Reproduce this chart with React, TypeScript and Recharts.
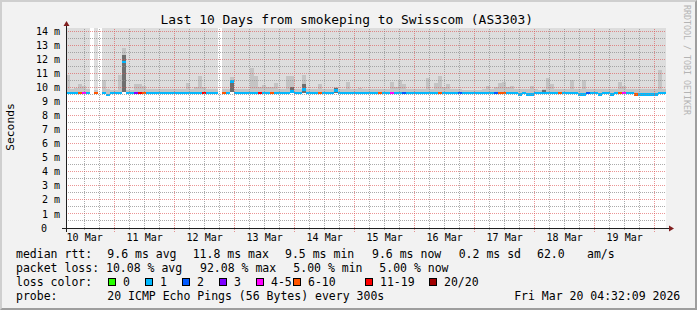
import { ComposedChart, Bar, XAxis, YAxis, CartesianGrid, ReferenceLine, Cell } from "recharts"

// time axis in hours since Mar 10 00:00, graph ends Mar 20 04:32
const START_H = 4.54
const END_H = 244.54
const STEP_H = 1.6
const TOP_MS = 14.215

const FONT = "'DejaVu Sans Mono', monospace"
const GRID_MINOR = "rgba(143,143,143,0.75)"
const GRID_MAJOR = "rgba(222,79,79,0.6)"

const dayLabels = ["10 Mar", "11 Mar", "12 Mar", "13 Mar", "14 Mar", "15 Mar", "16 Mar", "17 Mar", "18 Mar", "19 Mar"]
const yTicks = [0, 1, 2, 3, 4, 5, 6, 7, 8, 9, 10, 11, 12, 13, 14]

// median rtt (ms), one value per 1.6 h column, null = no data
const median = [
  9.6, 9.6, 9.6, 9.6, 9.6, 9.6, null, 9.6, null, 9.6,
  9.45, 9.6, 9.6, 9.6, 11.8, 9.6, 9.6, 9.6, 9.6, 9.6,
  9.6, 9.6, 9.6, 9.6, 9.6, 9.6, 9.6, 9.6, 9.6, 9.6,
  9.6, 9.6, 9.6, 9.6, 9.6, 9.6, 9.6, 9.6, null, 9.6,
  9.6, 10.4, 9.6, 9.6, 9.6, 9.6, 9.6, 9.6, 9.6, 9.6,
  9.6, 9.6, 9.6, 9.6, 9.6, 9.6, 9.7, 9.6, 9.6, 9.85,
  9.6, 9.6, 9.6, 9.6, 9.6, 9.6, 9.6, 9.75, 9.6, 9.6,
  9.6, 9.6, 9.6, 9.6, 9.6, 9.6, 9.6, 9.6, 9.6, 9.6,
  9.6, 9.6, 9.6, 9.6, 9.6, 9.6, 9.6, 9.6, 9.6, 9.6,
  9.6, 9.6, 9.6, 9.6, 9.6, 9.6, 9.6, 9.6, 9.6, 9.6,
  9.6, 9.6, 9.6, 9.6, 9.6, 9.6, 9.6, 9.6, 9.6, 9.6,
  9.6, 9.6, 9.6, 9.5, 9.6, 9.5, 9.5, 9.6, 9.6, 9.6,
  9.6, 9.6, 9.6, 9.6, 9.6, 9.6, 9.6, 9.6, 9.5, 9.5,
  9.6, 9.6, 9.6, 9.5, 9.6, 9.6, 9.5, 9.6, 9.6, 9.6,
  9.6, 9.6, 9.5, 9.5, 9.5, 9.5, 9.5, 9.5, 9.6, 9.6,
]

// lowest ping of each column (ms)
const smokeLow = [
  9.6, 9.6, 9.6, 9.6, 9.6, 9.6, null, 9.6, null, 9.6,
  9.45, 9.6, 9.6, 9.6, 9.7, 9.6, 9.6, 9.6, 9.6, 9.6,
  9.6, 9.6, 9.6, 9.6, 9.6, 9.6, 9.6, 9.6, 9.6, 9.6,
  9.6, 9.6, 9.6, 9.6, 9.6, 9.6, 9.6, 9.6, null, 9.6,
  9.6, 9.7, 9.6, 9.6, 9.6, 9.6, 9.6, 9.6, 9.6, 9.6,
  9.6, 9.6, 9.6, 9.6, 9.6, 9.6, 9.6, 9.6, 9.6, 9.6,
  9.6, 9.6, 9.6, 9.6, 9.6, 9.6, 9.6, 9.6, 9.6, 9.6,
  9.6, 9.6, 9.6, 9.6, 9.6, 9.6, 9.6, 9.6, 9.6, 9.6,
  9.6, 9.6, 9.6, 9.6, 9.6, 9.6, 9.6, 9.6, 9.6, 9.6,
  9.6, 9.6, 9.6, 9.6, 9.6, 9.6, 9.6, 9.6, 9.6, 9.6,
  9.6, 9.6, 9.6, 9.6, 9.6, 9.6, 9.6, 9.6, 9.6, 9.6,
  9.6, 9.6, 9.6, 9.5, 9.6, 9.5, 9.5, 9.6, 9.6, 9.6,
  9.6, 9.6, 9.6, 9.6, 9.6, 9.6, 9.6, 9.6, 9.5, 9.5,
  9.6, 9.6, 9.6, 9.5, 9.6, 9.6, 9.5, 9.6, 9.6, 9.6,
  9.6, 9.6, 9.5, 9.5, 9.5, 9.5, 9.5, 9.5, 9.6, 9.6,
]

// top of the light smoke (ms)
const smokeHigh = [
  10.9, 9.9, 9.95, 10.2, 10.1, 9.9, null, 9.8, null, 10.5,
  9.9, 9.8, 9.8, 10.9, 12.8, 9.8, 9.8, 10.2, 10.25, 10.1,
  9.85, 9.85, 9.9, 9.85, 9.85, 9.9, 9.85, 9.85, 9.9, 9.85,
  10.3, 9.9, 10.0, 10.8, 10.0, 9.85, 9.85, 9.85, null, 9.9,
  9.9, 10.7, 9.85, 9.85, 9.85, 9.9, 11.35, 10.8, 10.0, 10.15,
  10.0, 10.0, 10.3, 9.9, 9.9, 10.8, 10.8, 9.9, 9.85, 10.9,
  9.9, 9.9, 9.9, 10.2, 9.9, 9.9, 9.9, 10.0, 9.9, 9.85,
  10.4, 9.85, 9.85, 9.95, 9.85, 9.85, 9.85, 9.85, 9.9, 9.9,
  9.9, 10.4, 10.0, 10.5, 10.2, 9.85, 9.85, 9.85, 9.85, 9.85,
  10.65, 9.9, 10.3, 10.8, 10.0, 10.2, 9.9, 9.85, 9.85, 9.8,
  9.8, 9.8, 9.8, 9.8, 9.9, 10.07, 9.85, 10.0, 10.3, 10.4,
  10.0, 10.1, 9.85, 9.85, 9.85, 9.85, 10.07, 9.85, 9.8, 9.85,
  10.65, 10.2, 9.85, 9.85, 9.85, 9.85, 10.5, 9.9, 9.85, 10.5,
  9.85, 9.85, 9.85, 9.85, 9.85, 9.9, 9.9, 9.9, 10.4, 10.1,
  9.85, 9.85, 9.85, 9.85, 9.85, 9.85, 9.85, 9.9, 11.2, 9.85,
]

// top of the dense (dark) smoke (ms)
const smokeDark = [
  9.6, 9.6, 9.6, 9.6, 9.6, 9.6, null, 9.6, null, 9.6,
  9.45, 9.6, 9.6, 9.6, 12.3, 9.6, 9.6, 9.6, 9.6, 9.6,
  9.6, 9.6, 9.6, 9.6, 9.6, 9.6, 9.6, 9.6, 9.6, 9.6,
  9.6, 9.6, 9.6, 9.6, 9.6, 9.6, 9.6, 9.6, null, 9.6,
  9.6, 10.5, 9.6, 9.6, 9.6, 9.6, 9.6, 9.6, 9.6, 9.6,
  9.6, 9.6, 9.6, 9.6, 9.6, 9.6, 10.0, 9.6, 9.6, 10.2,
  9.6, 9.6, 9.6, 9.6, 9.6, 9.6, 9.6, 9.97, 9.6, 9.6,
  9.6, 9.6, 9.6, 9.6, 9.6, 9.6, 9.6, 9.6, 9.6, 9.6,
  9.6, 9.6, 9.6, 9.6, 9.6, 9.6, 9.6, 9.6, 9.6, 9.6,
  9.6, 9.6, 9.6, 9.6, 9.6, 9.6, 9.6, 9.6, 9.6, 9.6,
  9.6, 9.6, 9.6, 9.6, 9.6, 9.6, 9.6, 9.6, 9.6, 9.6,
  9.6, 9.6, 9.6, 9.5, 9.6, 9.5, 9.5, 9.6, 9.6, 9.8,
  9.6, 9.6, 9.6, 9.6, 9.6, 9.6, 9.6, 9.6, 9.5, 9.5,
  9.6, 9.6, 9.6, 9.5, 9.6, 9.6, 9.5, 9.6, 9.6, 9.6,
  9.6, 9.6, 9.5, 9.5, 9.5, 9.5, 9.5, 9.5, 9.6, 9.6,
]

// lost pings out of 20
const lostPings = [
  1, 1, 1, 7, 4, 1, 0, 7, 0, 1,
  1, 1, 1, 1, 1, 1, 1, 3, 12, 7,
  1, 1, 1, 1, 1, 1, 1, 1, 1, 1,
  1, 1, 1, 1, 12, 1, 1, 1, 0, 7,
  1, 1, 1, 1, 1, 1, 1, 1, 12, 1,
  1, 7, 1, 1, 1, 1, 1, 1, 1, 1,
  1, 1, 1, 7, 1, 1, 1, 1, 1, 1,
  1, 1, 1, 1, 1, 1, 1, 1, 7, 1,
  1, 4, 1, 1, 2, 1, 1, 1, 1, 1,
  1, 1, 1, 7, 1, 1, 1, 1, 2, 1,
  1, 1, 1, 1, 1, 1, 1, 2, 7, 7,
  1, 1, 1, 1, 1, 1, 1, 1, 1, 1,
  1, 1, 1, 7, 1, 1, 1, 1, 1, 1,
  2, 1, 1, 1, 1, 1, 1, 1, 7, 4,
  1, 1, 7, 1, 1, 1, 1, 1, 1, 1,
]

const lossLabels = ["0", "1", "2", "3", "4-5", "6-10", "11-19", "20/20"]
const lossLimits = [0, 1, 2, 3, 5, 10, 19, 20]
const lossColors = ["#26ff00", "#00b8ff", "#0059ff", "#7e00ff", "#ff00ff", "#ff5500", "#ff0000", "#a10000"]

const lossColor = (n: number) => lossColors[lossLimits.findIndex((l) => n <= l)]

const rows = median.map((m, i) => {
  const t = START_H + STEP_H * (i + 0.5)
  if (m == null) return { t, bg: null, smoke: null, dark: null, line: null, color: "none" }
  const lo = smokeLow[i] as number
  return {
    t,
    bg: [lo, TOP_MS],
    smoke: [lo, smokeHigh[i]],
    dark: [lo, smokeDark[i]],
    line: [m - 0.1, m + 0.1],
    color: lossColor(lostPings[i]),
  }
})

const noons = dayLabels.map((_, i) => 12 + 24 * i)
const midnights = dayLabels.map((_, i) => 24 * (i + 1))
const sixHours: number[] = []
for (let h = 12; h < END_H; h += 6) if (h % 24 !== 0) sixHours.push(h)
const hMajor = yTicks.filter((v) => v > 0)
const hMinor = yTicks.map((v) => v + 0.5).filter((v) => v < TOP_MS)

const legendBoxX = [108, 145, 182, 219, 256, 293, 365, 429]

const css = `
body { margin: 0; }
.recharts-reference-line-line { shape-rendering: crispEdges; }
.recharts-bar-rectangle path { shape-rendering: crispEdges; }
`

function MsTick({ x, y, payload }: any) {
  const v = payload.value
  return (
    <text x={v === 0 ? x - 19 : x - 6} y={y} dy={3.6} textAnchor="end" fontFamily={FONT} fontSize={10} fill="#000">
      {v === 0 ? "0" : `${v} m`}
    </text>
  )
}

function DayTick({ x, y, payload }: any) {
  const i = noons.indexOf(payload.value)
  return (
    <text x={x} y={y + 12.5} textAnchor="middle" fontFamily={FONT} fontSize={10} fill="#000">
      {dayLabels[i]}
    </text>
  )
}

const legendText = { fontFamily: FONT, fontSize: 11.5, fill: "#000" }

export default function App() {
  const xAxisProps = { dataKey: "t", type: "number" as const, domain: [START_H, END_H], allowDataOverflow: true }
  return (
    <div style={{ position: "relative", width: 697, height: 310, background: "#f2f2f2", overflow: "hidden" }}>
      <style>{css}</style>
      <div style={{ position: "absolute", left: 0, top: 0 }}>
        <ComposedChart width={697} height={310} data={rows} margin={{ top: 28, right: 31, bottom: 0, left: 0 }}>
          <CartesianGrid horizontal={false} vertical={false} fill="#ffffff" />
          <XAxis
            {...xAxisProps}
            ticks={noons}
            interval={0}
            height={82}
            tickSize={0}
            tickMargin={0}
            tickLine={false}
            axisLine={false}
            tick={(p: any) => <DayTick {...p} />}
          />
          <XAxis {...xAxisProps} xAxisId="bg" hide />
          <XAxis {...xAxisProps} xAxisId="smoke" hide />
          <XAxis {...xAxisProps} xAxisId="dark" hide />
          <XAxis {...xAxisProps} xAxisId="line" hide />
          <YAxis
            type="number"
            domain={[0, TOP_MS]}
            ticks={yTicks}
            interval={0}
            width={66}
            tickSize={0}
            tickMargin={0}
            tickLine={false}
            axisLine={false}
            allowDataOverflow
            tick={(p: any) => <MsTick {...p} />}
          />
          <Bar xAxisId="bg" dataKey="bg" fill="#dddddd" barSize={3.99} isAnimationActive={false} />
          <Bar xAxisId="smoke" dataKey="smoke" fill="#c4c4c4" barSize={3.99} isAnimationActive={false} />
          <Bar xAxisId="dark" dataKey="dark" fill="#6e6e6e" barSize={3.99} isAnimationActive={false} />
          <Bar xAxisId="line" dataKey="line" barSize={3.99} isAnimationActive={false}>
            {rows.map((r, i) => (
              <Cell key={i} fill={r.color} />
            ))}
          </Bar>
          {hMinor.map((v) => (
            <ReferenceLine key={"hm" + v} y={v} stroke={GRID_MINOR} strokeDasharray="1 1" />
          ))}
          {sixHours.map((h) => (
            <ReferenceLine
              key={"vm" + h}
              segment={[{ x: h, y: -0.14 }, { x: h, y: TOP_MS }]}
              ifOverflow="visible"
              stroke={GRID_MINOR}
              strokeDasharray="1 1"
            />
          ))}
          {hMajor.map((v) => (
            <ReferenceLine key={"hM" + v} y={v} stroke={GRID_MAJOR} strokeDasharray="1 1" />
          ))}
          {midnights.map((h) => (
            <ReferenceLine
              key={"vM" + h}
              segment={[{ x: h, y: -0.26 }, { x: h, y: TOP_MS }]}
              ifOverflow="visible"
              stroke={GRID_MAJOR}
              strokeDasharray="1 1"
            />
          ))}
        </ComposedChart>
      </div>
      <svg width={697} height={310} style={{ position: "absolute", left: 0, top: 0, pointerEvents: "none" }}>
        {/* axes with arrows */}
        <line x1={66.5} y1={232} x2={66.5} y2={25} stroke="#1f1f1f" strokeWidth={1} />
        <line x1={62} y1={228.5} x2={669} y2={228.5} stroke="#1f1f1f" strokeWidth={1} />
        <polygon points="63.5,26 69.5,26 66.5,21" fill="#801f1f" />
        <polygon points="669,225.5 669,231.5 674,228.5" fill="#801f1f" />

        <text x={346.7} y={24} textAnchor="middle" fontFamily={FONT} fontSize={12.9} fill="#000">
          Last 10 Days from smokeping to Swisscom (AS3303)
        </text>
        <text transform="translate(14,127) rotate(-90)" textAnchor="middle" fontFamily={FONT} fontSize={11.3} fill="#000">
          Seconds
        </text>
        <text transform="translate(684,5) rotate(90)" textAnchor="start" fontFamily={FONT} fontSize={8.3} fill="#b4b4b4">
          RRDTOOL / TOBI OETIKER
        </text>

        <g {...legendText}>
          <text x={16} y={257.7}>median rtt:</text>
          <text x={107.3} y={257.7}>9.6 ms avg</text>
          <text x={192.7} y={257.7}>11.8 ms max</text>
          <text x={285} y={257.7}>9.5 ms min</text>
          <text x={372} y={257.7}>9.6 ms now</text>
          <text x={458.7} y={257.7}>0.2 ms sd</text>
          <text x={537} y={257.7}>62.0</text>
          <text x={587} y={257.7}>am/s</text>

          <text x={16} y={271.7}>packet loss:</text>
          <text x={106} y={271.7}>10.08 % avg</text>
          <text x={200} y={271.7}>92.08 % max</text>
          <text x={293.3} y={271.7}>5.00 % min</text>
          <text x={379.3} y={271.7}>5.00 % now</text>

          <text x={16} y={285.7}>loss color:</text>
          {lossLabels.map((l, i) => (
            <g key={l}>
              <rect x={legendBoxX[i] + 0.5} y={278.5} width={7} height={7} fill={lossColors[i]} stroke="#000" strokeWidth={1} />
              <text x={legendBoxX[i] + 15} y={285.7}>{l}</text>
            </g>
          ))}

          <text x={16} y={299.5}>probe:</text>
          <text x={107.3} y={299.5}>20 ICMP Echo Pings (56 Bytes) every 300s</text>
          <text x={680.3} y={299.5} textAnchor="end">Fri Mar 20 04:32:09 2026</text>
        </g>
      </svg>
      <div
        style={{
          position: "absolute",
          inset: 0,
          boxSizing: "border-box",
          borderTop: "2px solid #cfcfcf",
          borderLeft: "2px solid #cfcfcf",
          borderBottom: "2px solid #9e9e9e",
          borderRight: "2px solid #9e9e9e",
          pointerEvents: "none",
        }}
      />
    </div>
  )
}
